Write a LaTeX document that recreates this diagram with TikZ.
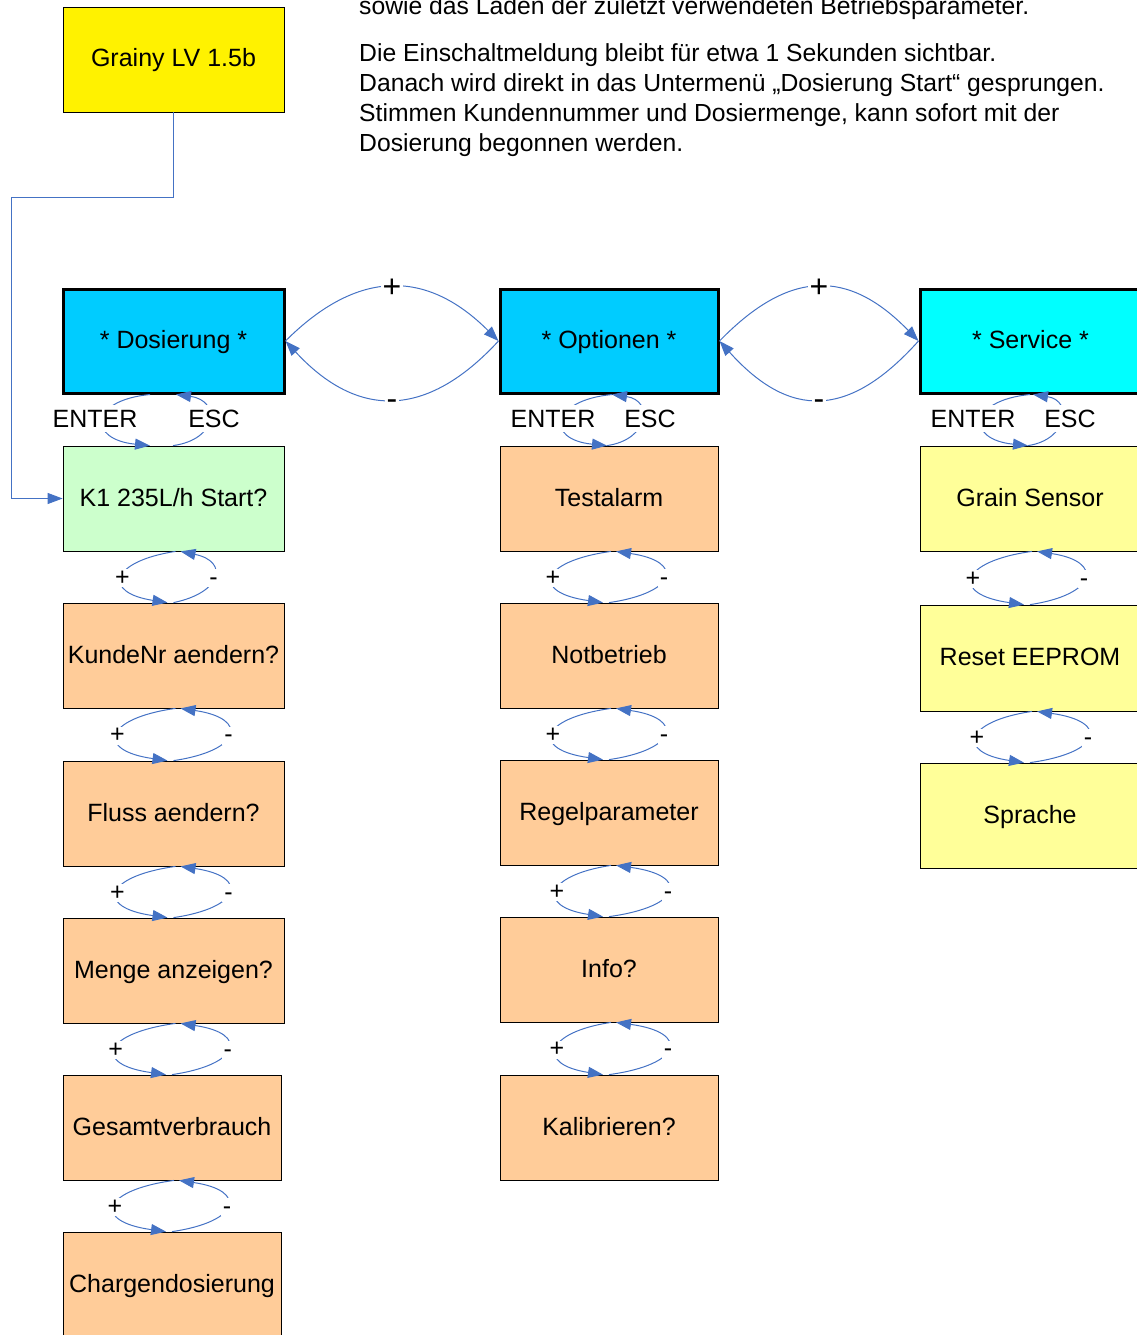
\documentclass[tikz,border=0pt]{standalone}
\usepackage{fontspec}
\setmainfont{Liberation Sans}
\usetikzlibrary{arrows.meta}
\definecolor{linkblue}{RGB}{68,114,196}
\definecolor{menublue}{RGB}{0,204,255}
\definecolor{servcyan}{RGB}{0,255,255}
\definecolor{startgreen}{RGB}{204,255,204}
\definecolor{itempeach}{RGB}{255,204,153}
\definecolor{itemyellow}{RGB}{255,255,153}
\tikzset{
 box/.style={draw=black,line width=0.8pt,minimum width=221pt,minimum height=105pt,
  inner sep=2pt,font=\fontsize{25}{30}\selectfont,text height=18pt,text depth=3pt},
 menu/.style={box,line width=3pt,minimum height=104pt},
 peach/.style={box,fill=itempeach},
 pale/.style={box,fill=itemyellow,minimum width=220pt},
 link/.style={draw=linkblue,line width=1pt},
 linkto/.style={link,-{Triangle[length=15pt,width=11pt]}},
 sgn/.style={fill=white,inner sep=2pt,text height=14pt,text depth=0pt,yshift=-1pt,font=\fontsize{25}{30}\selectfont},
 bigsgn/.style={fill=white,inner sep=2pt,text height=20pt,text depth=0pt,font=\fontsize{32}{36}\selectfont},
 keyname/.style={fill=white,inner sep=5pt,font=\fontsize{25}{30}\selectfont}
}

\begin{document}
\begin{tikzpicture}[x=1pt,y=-1pt]
 \useasboundingbox (0,0) rectangle (1137,1335);
 % start
 \node[box,fill=yellow] (grainy) at (173.5,59.5) {Grainy LV 1.5b};
 \node[anchor=north west,inner sep=0pt,align=left,font=\fontsize{24.7}{30}\selectfont] (intro) at (359,-4)
  {sowie das Laden der zuletzt verwendeten Betriebsparameter.\\[17pt]
   Die Einschaltmeldung bleibt für etwa 1 Sekunden sichtbar.\\
   Danach wird direkt in das Untermenü „Dosierung Start“ gesprungen.\\
   Stimmen Kundennummer und Dosiermenge, kann sofort mit der\\
   Dosierung begonnen werden.};
 % main menus
 \node[menu,fill=menublue] (dos) at (173.5,341) {* Dosierung *};
 \node[menu,fill=menublue,minimum width=218pt] (opt) at (609,341) {* Optionen *};
 \node[menu,fill=servcyan] (svc) at (1030.5,341) {* Service *};
 % Dosierung
 \node[box,fill=startgreen] (k1) at (173.5,498.5) {K1 235L/h Start?};
 \node[peach] (kunde) at (173.5,655.5) {KundeNr aendern?};
 \node[peach] (fluss) at (173.5,813.5) {Fluss aendern?};
 \node[peach] (menge) at (173.5,970.5) {Menge anzeigen?};
 \node[peach,minimum width=218pt] (gesamt) at (172,1127.5) {Gesamtverbrauch};
 \node[peach,minimum width=218pt] (charg) at (172,1284.5) {Chargendosierung};
 % Optionen
 \node[peach,minimum width=218pt] (test) at (609,498.5) {Testalarm};
 \node[peach,minimum width=218pt] (notb) at (609,655.5) {Notbetrieb};
 \node[peach,minimum width=218pt] (regel) at (609,812.5) {Regelparameter};
 \node[peach,minimum width=218pt] (info) at (609,969.5) {Info?};
 \node[peach,minimum width=218pt] (kalib) at (609,1127.5) {Kalibrieren?};
 % Service
 \node[pale] (grain) at (1030,498.5) {Grain Sensor};
 \node[pale,minimum height=106pt] (reset) at (1030,658) {Reset EEPROM};
 \node[pale] (sprache) at (1030,815.5) {Sprache};

 \coordinate (bend) at (11,197);
 \draw[linkto] (grainy.south) |- (bend) |- (k1.west);

 % + / - between the menus
 \draw[linkto] (dos.east) .. controls +(72,-72) and +(-72,-72) .. node[bigsgn] (plusdo) {+} (opt.west);
 \draw[linkto] (opt.west) .. controls +(-72,78) and +(72,78) .. node[bigsgn] (minusdo) {-} (dos.east);
 \draw[linkto] (opt.east) .. controls +(70,-72) and +(-70,-72) .. node[bigsgn] (plusos) {+} (svc.west);
 \draw[linkto] (svc.west) .. controls +(-70,78) and +(70,78) .. node[bigsgn] (minusos) {-} (opt.east);

 % ENTER / ESC
 \draw[linkto] ([xshift=-23.5pt]dos.south) .. controls +(-62,6) and +(-62,-6) .. ([xshift=-23.5pt]k1.north);
 \draw[linkto] ([xshift=-0.5pt]k1.north) .. controls +(45,-6) and +(45,6) .. ([xshift=2.5pt]dos.south);
 \draw[linkto] ([xshift=3pt]opt.south) .. controls +(-62,6) and +(-62,-6) .. ([xshift=-2pt]test.north);
 \draw[linkto] ([xshift=-2pt]test.north) .. controls +(42,-6) and +(42,6) .. ([xshift=3pt]opt.south);
 \draw[linkto] ([xshift=-0.5pt]svc.south) .. controls +(-62,6) and +(-62,-6) .. ([xshift=-2pt]grain.north);
 \draw[linkto] ([xshift=-2pt]grain.north) .. controls +(40,-6) and +(40,6) .. ([xshift=2.5pt]svc.south);
 \node[keyname] (ent1) at (95,418.5) {ENTER};
 \node[keyname] (esc1) at (214,418.5) {ESC};
 \node[keyname] (ent2) at (553,418.5) {ENTER};
 \node[keyname] (esc2) at (650,418.5) {ESC};
 \node[keyname] (ent3) at (973,418.5) {ENTER};
 \node[keyname] (esc3) at (1070,418.5) {ESC};

 % + / - inside the sub menus
 \foreach \p/\q/\lft/\rgt in {k1/kunde/51/40, kunde/fluss/56/55, fluss/menge/56/55,
   menge/gesamt/57/55, gesamt/charg/57/55, test/notb/56/55, notb/regel/56/55,
   regel/info/52/59, info/kalib/52/59, grain/reset/57/54, reset/sprache/53/58} {
  \draw[linkto] ([xshift=2pt]\p.south) .. controls +({-(\lft-2)/0.75},10) and +({-(\lft-2)/0.75},-10) ..
   node[sgn] (plus-\p) {+} ([xshift=-6pt]\q.north);
  \draw[linkto] (\q.north) .. controls +({(\rgt-3.5)/0.75},-10) and +({(\rgt-3.5)/0.75},10) ..
   node[sgn] (minus-\p) {-} ([xshift=7pt]\p.south);
 }
\end{tikzpicture}
\end{document}
